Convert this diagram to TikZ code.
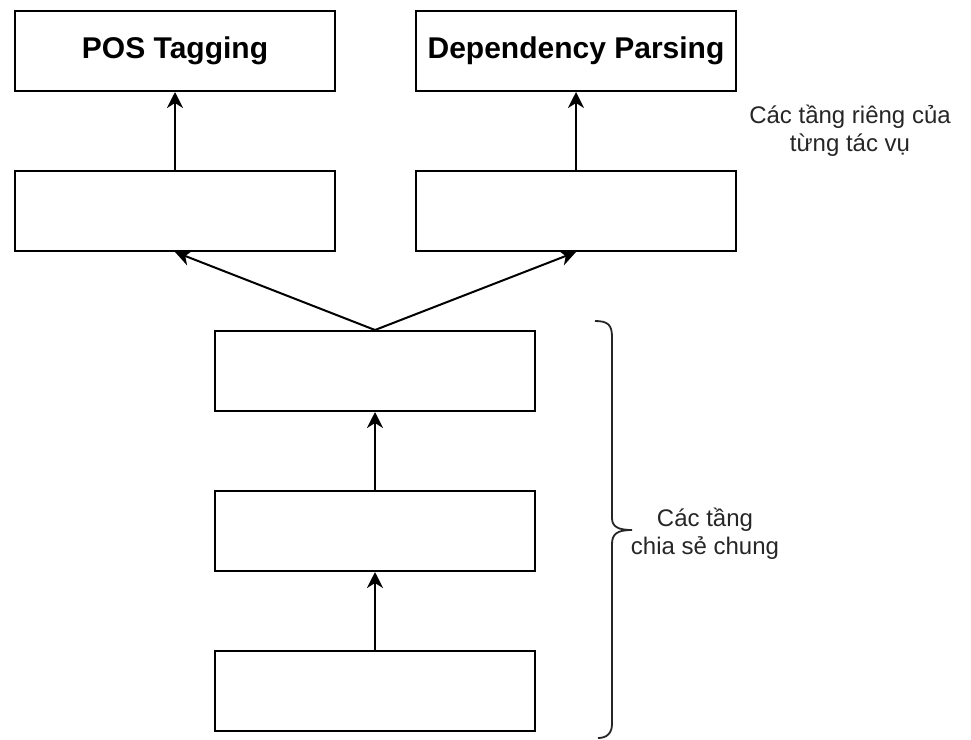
\documentclass[tikz,border=0pt]{standalone}
\usepackage{fontspec}
\setmainfont{Liberation Sans}
\usetikzlibrary{arrows.meta}
\begin{document}
\begin{tikzpicture}[x=1pt,y=-1pt,
  layer/.style={draw=black,line width=2pt,minimum width=320pt,minimum height=80pt,inner sep=0pt,anchor=north west,fill=white},
  conn/.style={line width=2pt,-{Stealth[length=16pt,width=16pt,inset=5pt]}},
  title/.style={font=\fontsize{30}{34}\selectfont\bfseries},
  lbl/.style={font=\fontsize{24}{28}\selectfont,align=center,text=black!85}]
\useasboundingbox (0,0) rectangle (971,739);
\node[layer,title] (pos) at (14,10) {POS Tagging};
\node[layer,title] (dep) at (415,10) {Dependency Parsing};
\node[layer] (tl) at (14,170) {};
\node[layer] (tr) at (415,170) {};
\node[layer] (s1) at (214,330) {};
\node[layer] (s2) at (214,490) {};
\node[layer] (s3) at (214,650) {};
\draw[conn] (tl.north) -- (pos.south);
\draw[conn] (tr.north) -- (dep.south);
\draw[conn] (s1.north) -- (tl.south);
\draw[conn] (s1.north) -- (tr.south);
\draw[conn] (s2.north) -- (s1.south);
\draw[conn] (s3.north) -- (s2.south);
\node[lbl] (task) at (850,131) {Các tầng riêng của\\từng tác vụ};
\coordinate (btop) at (595,321);
\coordinate (btip) at (632,530);
\coordinate (bbot) at (598,738);
\draw[line width=1.8pt,black!85] (btop) .. controls (608,321) and (612,325) .. (612,337) -- (612,518) .. controls (612,526) and (617,530) .. (btip) .. controls (617,530) and (612,534) .. (612,544) -- (612,724) .. controls (612,733) and (607,738) .. (bbot);
\node[lbl] (shared) at (705,534) {Các tầng\\chia sẻ chung};
\end{tikzpicture}
\end{document}
